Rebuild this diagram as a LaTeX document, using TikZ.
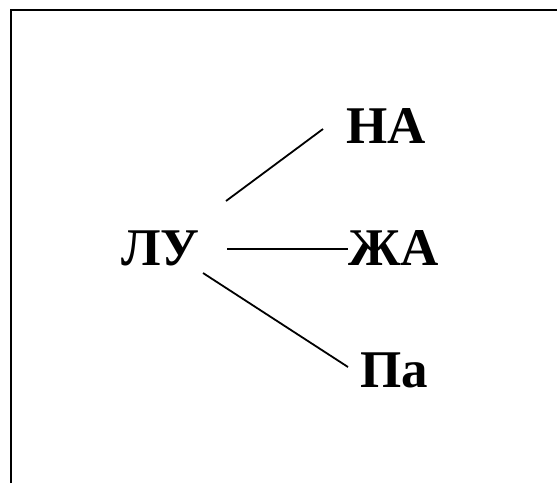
\documentclass[tikz,border=0pt]{standalone}
\usepackage{fontspec}
\setmainfont{Liberation Serif}
\begin{document}
\begin{tikzpicture}[x=1pt,y=-1pt,
  lbl/.style={inner sep=0pt,anchor=base west,font=\fontsize{53}{58}\selectfont\bfseries},
  conn/.style={line width=1.8pt}]
\useasboundingbox (0,0) rectangle (557,483);
\draw[line width=2.4pt] (11,483) -- (11,10) -- (557,10);
\node[lbl] (lu) at (121,265) {ЛУ};
\node[lbl] (na) at (346,143) {НА};
\node[lbl] (zha) at (348,265) {ЖА};
\node[lbl] (pa) at (360,387) {Па};
\coordinate (a1) at (226,201);
\coordinate (b1) at (323,129);
\coordinate (a2) at (227,249);
\coordinate (b2) at (348,249);
\coordinate (a3) at (203,273);
\coordinate (b3) at (348,367);
\draw[conn] (a1) -- (b1);
\draw[conn] (a2) -- (b2);
\draw[conn] (a3) -- (b3);
\end{tikzpicture}
\end{document}
